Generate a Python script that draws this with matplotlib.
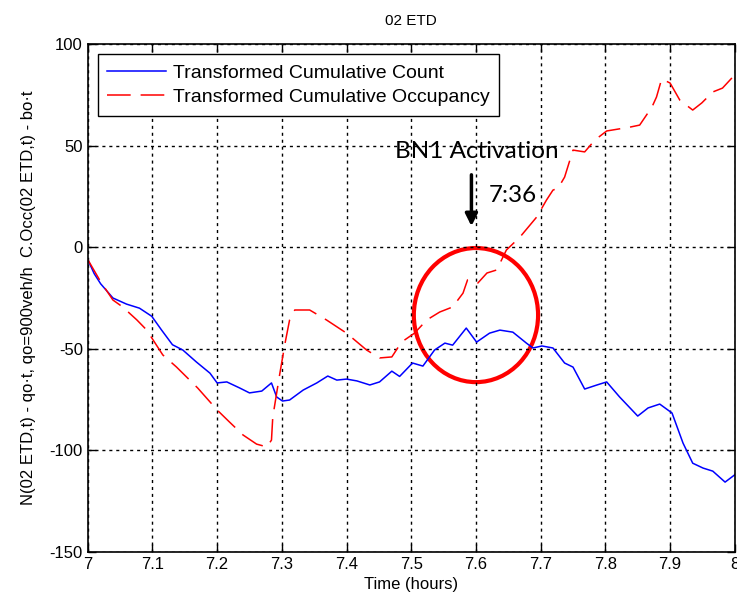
import matplotlib
matplotlib.use('Agg')
import matplotlib.pyplot as plt
from matplotlib.patches import Ellipse

plt.rcParams['font.family'] = ['Liberation Sans', 'DejaVu Sans']
plt.rcParams['axes.unicode_minus'] = False

# transformed cumulative count (blue)
count_t = [7.000, 7.010, 7.020, 7.039, 7.060, 7.080, 7.099, 7.114, 7.131, 7.147,
           7.168, 7.189, 7.200, 7.215, 7.235, 7.250, 7.269, 7.284, 7.292, 7.301,
           7.312, 7.333, 7.354, 7.371, 7.385, 7.400, 7.416, 7.436, 7.451, 7.470,
           7.482, 7.502, 7.518, 7.536, 7.552, 7.564, 7.585, 7.601, 7.621, 7.637,
           7.657, 7.678, 7.688, 7.702, 7.719, 7.737, 7.750, 7.768, 7.787, 7.802,
           7.822, 7.850, 7.866, 7.884, 7.903, 7.920, 7.935, 7.951, 7.966, 7.985, 8.000]
count_v = [-6, -13, -18, -25, -28, -30, -34, -40.7, -48, -50.6,
           -56.5, -62, -66.8, -66.3, -69.3, -71.7, -70.8, -66.8, -73.7, -75.7,
           -75.2, -70.3, -66.8, -63.4, -65.4, -64.9, -65.8, -67.8, -66.3, -61,
           -63.6, -57, -58.5, -50.6, -47.2, -48.2, -39.8, -46.7, -42.3, -40.8,
           -41.8, -47.2, -49.6, -48.6, -49.6, -57, -59, -69.8, -67.8, -66.3,
           -73.7, -83.1, -79.1, -77.2, -81.6, -96.4, -106.3, -108.7, -110.2, -115.6, -112]

# transformed cumulative occupancy (red dashed)
occ_t = [7.000, 7.020, 7.039, 7.054, 7.076, 7.091, 7.116, 7.137, 7.170, 7.200,
         7.219, 7.240, 7.261, 7.277, 7.284, 7.286, 7.297, 7.305, 7.312, 7.320,
         7.343, 7.369, 7.400, 7.431, 7.451, 7.470, 7.485, 7.505, 7.524, 7.544,
         7.564, 7.580, 7.587, 7.603, 7.617, 7.632, 7.647, 7.668, 7.694, 7.709,
         7.719, 7.727, 7.737, 7.750, 7.768, 7.784, 7.802, 7.838, 7.853, 7.872,
         7.879, 7.887, 7.900, 7.915, 7.935, 7.949, 7.966, 7.981, 7.997, 8.000]
occ_v = [-6, -17, -26, -29.4, -35.8, -40.7, -53, -58.9, -69.3, -80.1,
         -86, -92.4, -96.9, -98.3, -94.9, -83.6, -62, -47.2, -35.8, -30.9,
         -30.9, -35.8, -42.3, -50.6, -54.5, -54, -46.7, -42.3, -35.8, -31.9,
         -29.4, -22.6, -16.1, -17.6, -12.7, -11.2, -1.4, 5, 14.9, 23.2,
         28.1, 29.1, 34.5, 47.8, 46.9, 52.8, 57.2, 59.1, 60.1, 69,
         73.9, 82.8, 80.8, 72.4, 67.5, 71, 76.4, 78.3, 83.8, 86]

x_ticks = [7, 7.1, 7.2, 7.3, 7.4, 7.5, 7.6, 7.7, 7.8, 7.9, 8]
x_labels = ['7', '7.1', '7.2', '7.3', '7.4', '7.5', '7.6', '7.7', '7.8', '7.9', '8']
y_ticks = [-150, -100, -50, 0, 50, 100]

activation_t = 7.6

fig = plt.figure(figsize=(7.37, 6.07), dpi=100)
ax = fig.add_axes([0.119, 0.0906, 0.878, 0.8369])

ax.plot(count_t, count_v, color='#0000ff', lw=1.1, label='Transformed Cumulative Count')
ax.plot(occ_t, occ_v, color='#ff0000', lw=1.1, dashes=(15.5, 6.5),
        label='Transformed Cumulative Occupancy')

ax.set_xlim(7, 8)
ax.set_ylim(-150, 100)
ax.set_xticks(x_ticks)
ax.set_xticklabels(x_labels)
ax.set_yticks(y_ticks)
ax.grid(True, color='black', linestyle=(0, (2.2, 2.8)), linewidth=1.0)
ax.tick_params(direction='in', top=True, right=True, labelsize=12, length=6, width=1)
for s in ax.spines.values():
    s.set_linewidth(1.2)

ax.set_title('02 ETD', fontsize=11, pad=14)
ax.set_xlabel('Time (hours)', fontsize=12, labelpad=4)
ax.set_ylabel('N(02 ETD,t) - qo\u00b7t, qo=900veh/h  C.Occ(02 ETD,t) - bo\u00b7t',
              fontsize=12, labelpad=10)

leg = ax.legend(loc='upper left', bbox_to_anchor=(0.0155, 0.98), borderaxespad=0,
                fontsize=14, fancybox=False, framealpha=1, edgecolor='black',
                handlelength=3.0, handletextpad=0.36, borderpad=0.5, labelspacing=0.35)
leg.get_frame().set_linewidth(1.0)

# annotation: activation circle, arrow and labels
circle = Ellipse((activation_t, -33.4), 0.192, 66, fill=False, edgecolor='#ff0000', lw=3)
ax.add_patch(circle)
ax.annotate('', xy=(7.593, 9), xytext=(7.593, 37),
            arrowprops=dict(arrowstyle='-|>', color='black', lw=2.5, mutation_scale=18))
ax.text(7.4745, 47.3, 'BN1 Activation', fontsize=17.5, family=['Lato', 'DejaVu Sans'],
        va='center', ha='left')
ax.text(7.620, 25.5, '7:36', fontsize=17.5, family=['Lato', 'DejaVu Sans'],
        va='center', ha='left')

plt.savefig('out.png', dpi=100)
